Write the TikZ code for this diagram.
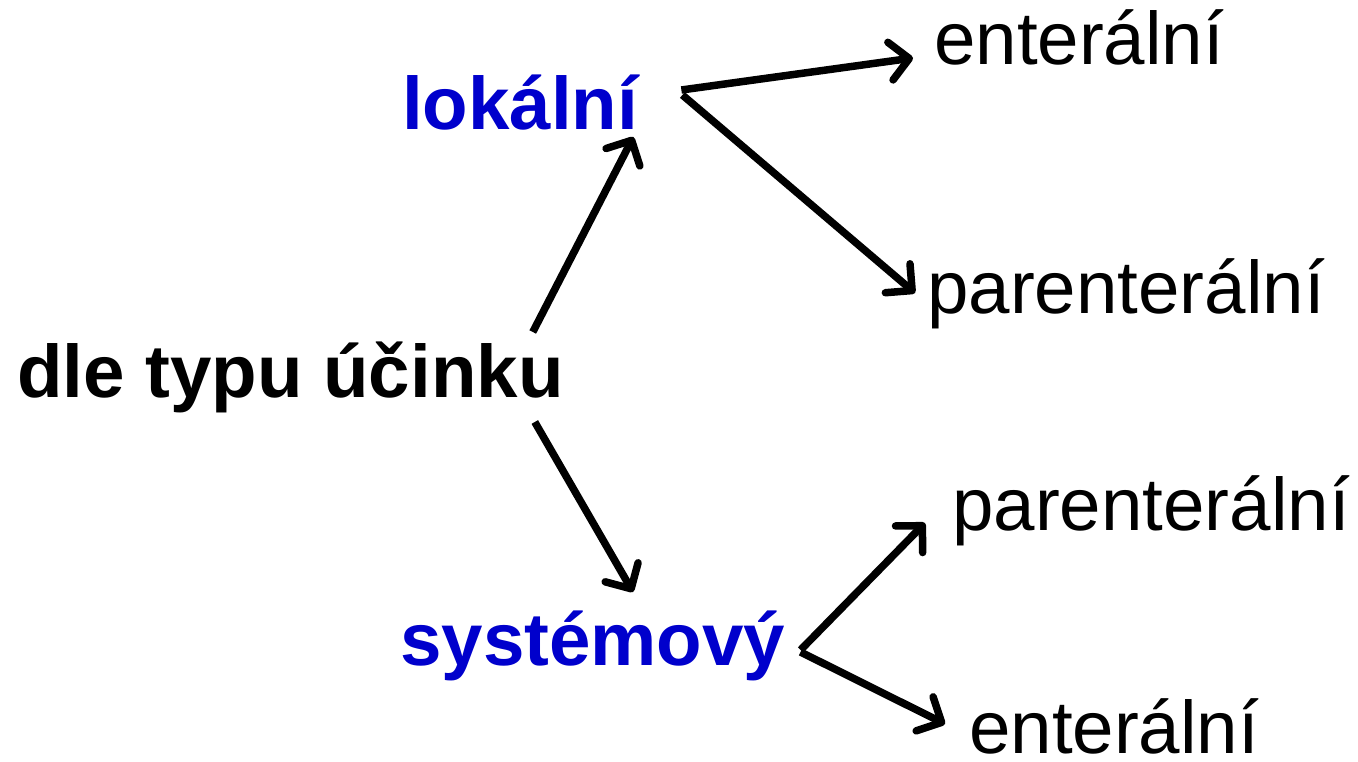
\documentclass[tikz,border=0pt]{standalone}
\usepackage{fontspec}
\setmainfont{Liberation Sans}
\usetikzlibrary{arrows.meta}
\definecolor{lblue}{RGB}{0,0,204}
\begin{document}
\begin{tikzpicture}[x=1pt,y=-1pt,
  lbl/.style={inner sep=0pt,anchor=base west,font=\fontsize{74.5}{80}\selectfont},
  bold/.style={lbl,font=\fontsize{74.5}{80}\selectfont\bfseries},
  arr/.style={line width=7.5pt,-{Straight Barb[length=19pt,width=38pt,line cap=round,line join=round]}}]
\useasboundingbox (0,0) rectangle (1358,762);
\node[bold] (dle) at (17,397) {dle typu účinku};
\node[bold,text=lblue] (lok) at (402,130) {lokální};
\node[bold,text=lblue] (sys) at (400,665) {systémový};
\node[lbl] (ent1) at (934,65) {enterální};
\node[lbl] (par1) at (927,313) {parenterální};
\node[lbl] (par2) at (952,530) {parenterální};
\node[lbl] (ent2) at (969,753) {enterální};
\draw[arr] ([shift={(-31,-65)}]dle.base east) -- ([shift={(-5,7)}]lok.base east);
\draw[arr] ([shift={(-29,25)}]dle.base east) -- ([shift={(233,-73)}]sys.base west);
\draw[arr] ([shift={(43,-40)}]lok.base east) -- ([shift={(-21,-7)}]ent1.base west);
\draw[arr] ([shift={(44,-35)}]lok.base east) -- ([shift={(-12,-20)}]par1.base west);
\draw[arr] ([shift={(15,-15)}]sys.base east) -- ([shift={(-27,-7)}]par2.base west);
\draw[arr] ([shift={(15,-13)}]sys.base east) -- ([shift={(-24,-29)}]ent2.base west);
\end{tikzpicture}
\end{document}
